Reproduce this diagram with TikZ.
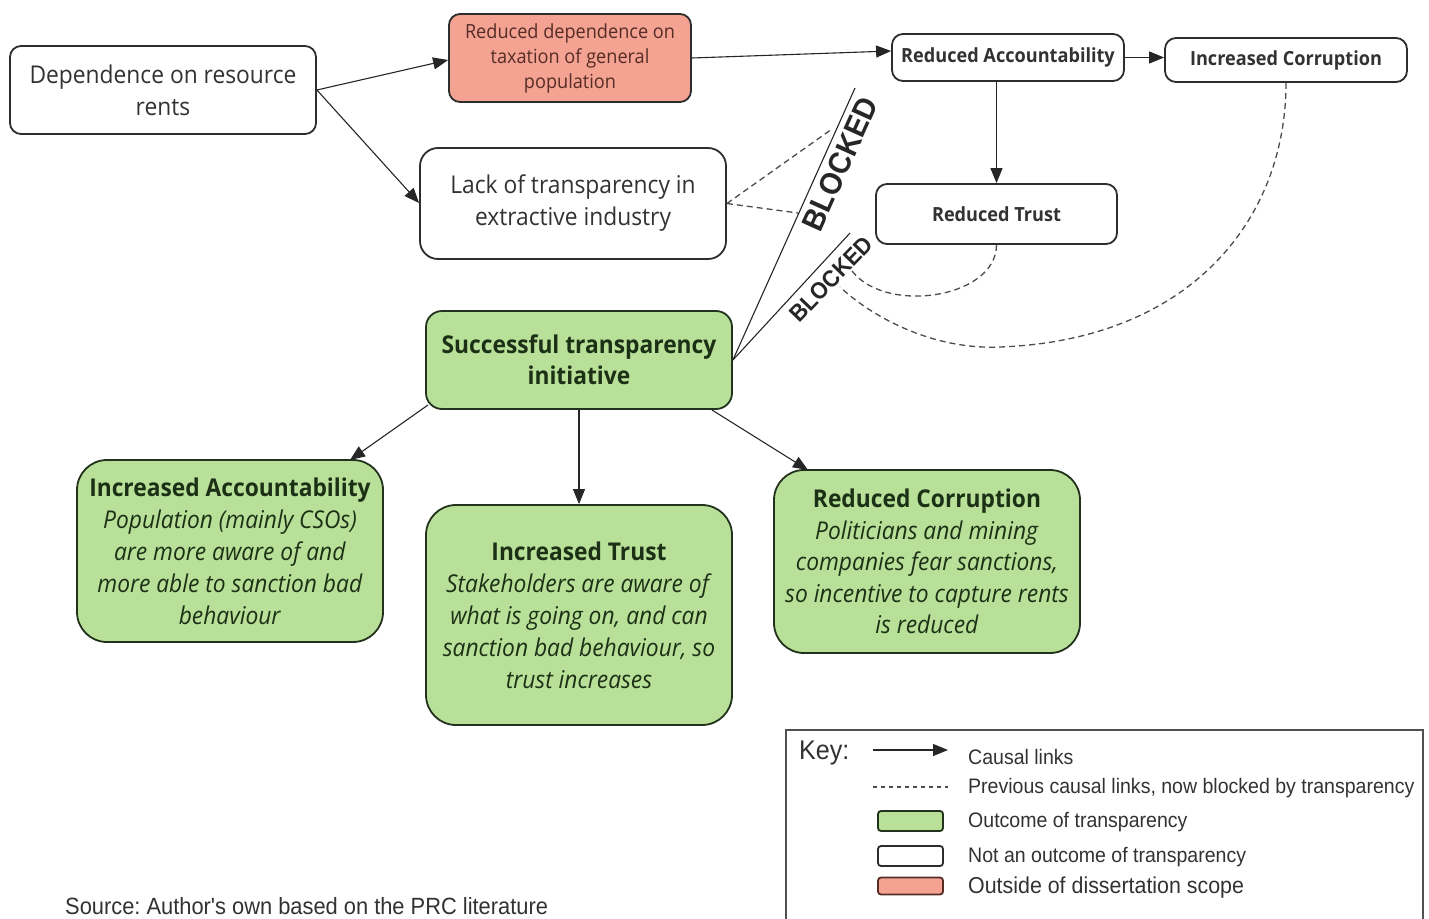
\documentclass[tikz,border=0pt]{standalone}
\usepackage{fontspec}
\setmainfont{Open Sans}[FakeStretch=0.93]
\newfontfamily\arialfont{Liberation Sans}[FakeStretch=0.93]
\usetikzlibrary{arrows.meta}
\definecolor{boxline}{RGB}{45,45,45}
\definecolor{txtgray}{RGB}{50,50,50}
\definecolor{greenfill}{RGB}{185,224,152}
\definecolor{greenline}{RGB}{35,50,28}
\definecolor{greentxt}{RGB}{28,48,22}
\definecolor{pinkfill}{RGB}{244,163,146}
\definecolor{pinktxt}{RGB}{85,45,38}
\definecolor{keyline}{RGB}{80,80,80}
\tikzset{
  wbox/.style={draw=boxline, line width=1.8pt, fill=white, rounded corners=11pt, align=center, inner sep=0pt, text=txtgray},
  gbox/.style={draw=greenline, line width=1.8pt, fill=greenfill, rounded corners=30pt, align=center, inner sep=0pt, text=greentxt},
  causal/.style={-{Triangle[length=15pt,width=12pt]}, line width=1.1pt, draw=black!85},
  blocked/.style={line width=1.3pt, draw=black!70, dash pattern=on 6pt off 4pt},
  plainline/.style={line width=1.1pt, draw=black!85},
  blktxt/.style={text=black!85, inner sep=0pt},
  keytxt/.style={font=\arialfont\fontsize{21}{24}\selectfont, text=txtgray, anchor=west, inner sep=0pt},
}
\frenchspacing
\begin{document}
\begin{tikzpicture}[x=1pt,y=-1pt]
\useasboundingbox (0,0) rectangle (1429,918);
% nodes
\node[wbox, minimum width=306pt, minimum height=88pt, font=\fontsize{24.5}{32}\selectfont] (dep) at (163,90) {Dependence on resource\\rents};
\node[wbox, fill=pinkfill, text=pinktxt, minimum width=242pt, minimum height=88pt, font=\fontsize{19.5}{25}\selectfont] (reddep) at (570,58) {Reduced dependence on\\taxation of general\\population};
\node[wbox, rounded corners=18pt, minimum width=306pt, minimum height=111pt, font=\fontsize{24.5}{32}\selectfont] (lack) at (573,203.5) {Lack of transparency in\\extractive industry};
\node[wbox, minimum width=232pt, minimum height=47pt, font=\bfseries\fontsize{19.5}{22}\selectfont] (redacc) at (1008,57.5) {Reduced Accountability};
\node[wbox, minimum width=242pt, minimum height=44pt, font=\bfseries\fontsize{19.5}{22}\selectfont] (inccor) at (1286,60) {Increased Corruption};
\node[wbox, minimum width=241pt, minimum height=60pt, font=\bfseries\fontsize{19.5}{22}\selectfont] (redtrust) at (996.5,214) {Reduced Trust};
\node[gbox, rounded corners=16pt, minimum width=306pt, minimum height=98pt, font=\bfseries\fontsize{24.5}{31}\selectfont] (success) at (579,360) {Successful transparency\\initiative};
\node[gbox, minimum width=306pt, minimum height=182pt, font=\fontsize{24.5}{32}\selectfont] (incacc) at (230,551) {\textbf{Increased Accountability}\\\textit{Population (mainly CSOs)}\\\textit{are more aware of and}\\\textit{more able to sanction bad}\\\textit{behaviour}};
\node[gbox, minimum width=306pt, minimum height=220pt, font=\fontsize{24.5}{32}\selectfont] (inctrust) at (579,615) {\textbf{Increased Trust}\\\textit{Stakeholders are aware of}\\\textit{what is going on, and can}\\\textit{sanction bad behaviour, so}\\\textit{trust increases}};
\node[gbox, minimum width=306pt, minimum height=183pt, font=\fontsize{24.5}{31.5}\selectfont] (redcor) at (927,561.5) {\textbf{Reduced Corruption}\\\textit{Politicians and mining}\\\textit{companies fear sanctions,}\\\textit{so incentive to capture rents}\\\textit{is reduced}};
% causal links
\coordinate (depE) at (dep.east);
\draw[causal] (depE) -- (reddep.west |- 0,60);
\draw[causal] (depE) -- (lack.west |- 0,203);
\draw[causal] (reddep.east) -- (redacc.west |- 0,51);
\draw[causal] (redacc.east) -- (inccor.west |- 0,57.5);
\draw[causal] (redtrust.north |- redacc.south) -- (redtrust.north);
\coordinate (s1) at (428,405);
\coordinate (s2) at (350,460);
\draw[causal] (s1) -- (s2);
\draw[causal] (success.south) -- (inctrust.north);
\coordinate (s3) at (712,410);
\coordinate (s4) at (808,470);
\draw[causal] (s3) -- (s4);
% blocked lines
\coordinate (b1) at (855,88);
\coordinate (b2) at (850,233);
\draw[plainline] (success.east) -- (b1);
\draw[plainline] (success.east) -- (b2);
\node[blktxt, font=\arialfont\bfseries\fontsize{31}{31}\selectfont, rotate=65.7] (blk1) at (840,164) {BLOCKED};
\node[blktxt, font=\arialfont\bfseries\fontsize{23.5}{24}\selectfont, rotate=46] (blk2) at (831,279) {BLOCKED};
% dashed (previous) links
\coordinate (d1) at (832,129);
\coordinate (d2) at (798,213);
\draw[blocked] (lack.east) -- (d1);
\draw[blocked] (lack.east) -- (d2);
\coordinate (d3) at (850,268);
\draw[blocked] (redtrust.south) .. controls (996,300) and (880,315) .. (d3);
\coordinate (d4) at (1000,347);
\coordinate (d5) at (840,287);
\draw[blocked] (inccor.south) .. controls (1286,220) and (1190,340) .. (d4) .. controls (930,350) and (870,315) .. (d5);
% key
\node[draw=keyline, line width=1.8pt, minimum width=637pt, minimum height=200pt, inner sep=0pt, anchor=north west] (keybox) at (785,729) {};
\node[anchor=west, inner sep=0pt, font=\arialfont\fontsize{27}{28}\selectfont, text=txtgray] (keylbl) at (799,753) {Key:};
\coordinate (k1a) at (873,750);
\coordinate (k1b) at (948,750);
\draw[causal] (k1a) -- (k1b);
\node[keytxt] (kt1) at (968,757) {Causal links};
\coordinate (k2a) at (873,787);
\coordinate (k2b) at (948,787);
\draw[line width=1.1pt, draw=black!70, dash pattern=on 4pt off 4pt] (k2a) -- (k2b);
\node[keytxt] (kt2) at (968,788) {Previous causal links, now blocked by transparency};
\node[draw=greenline, line width=1.8pt, fill=greenfill, rounded corners=3pt, minimum width=65pt, minimum height=20pt, inner sep=0pt] (kg) at (910.5,821) {};
\node[keytxt] (kt3) at (968,822) {Outcome of transparency};
\node[draw=boxline, line width=1.8pt, fill=white, rounded corners=3pt, minimum width=65pt, minimum height=20pt, inner sep=0pt] (kw) at (910.5,856) {};
\node[keytxt] (kt4) at (968,857) {Not an outcome of transparency};
\node[draw=pinktxt, line width=1.8pt, fill=pinkfill, rounded corners=3pt, minimum width=65pt, minimum height=17pt, inner sep=0pt] (kp) at (910.5,886) {};
\node[keytxt, font=\arialfont\fontsize{23}{24}\selectfont] (kt5) at (968,888) {Outside of dissertation scope};
% source
\node[anchor=west, inner sep=0pt, font=\arialfont\fontsize{23.5}{24}\selectfont, text=txtgray] (src) at (65,906) {Source: Author's own based on the PRC literature};
\end{tikzpicture}
\end{document}
